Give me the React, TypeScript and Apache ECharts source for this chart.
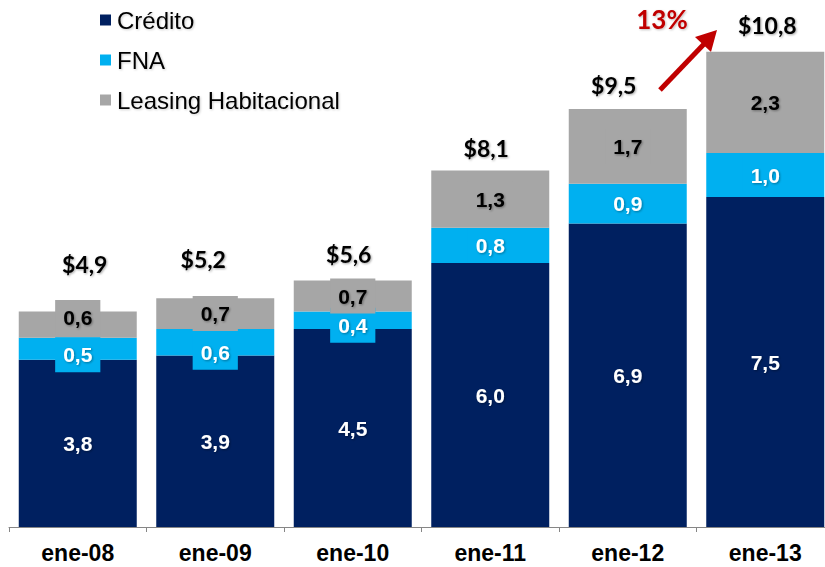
import React, { useEffect, useRef } from "react";
import * as echarts from "echarts";

const categories = ["ene-08", "ene-09", "ene-10", "ene-11", "ene-12", "ene-13"];
const credito = [3.8, 3.9, 4.5, 6.0, 6.9, 7.5];
const fna = [0.5, 0.6, 0.4, 0.8, 0.9, 1.0];
const leasing = [0.6, 0.7, 0.7, 1.3, 1.7, 2.3];
const totals = [4.9, 5.2, 5.6, 8.1, 9.5, 10.8];
const growthLabel = "13%";
const seriesNames = ["Crédito", "FNA", "Leasing Habitacional"];

// label nudges in px (style only)
const totalLabelOffsets = [[7, -36], [-12, -28], [-4, -15], [-4, -11], [-14, -13], [2, -15]];
const fnaLabelShift = [6, 10, 5, 0, 0, 0];
const leasingLabelShift = [-7, 0, 0, 0, 0, 0];

const COLORS = ["#002060", "#00B0F0", "#A6A6A6"];
const fmt = (v: number) => v.toFixed(1).replace(".", ",");

const shadow = {
  textShadowColor: "rgba(0,0,0,0.35)",
  textShadowBlur: 2,
  textShadowOffsetX: 1,
  textShadowOffsetY: 1,
};

export default function App() {
  const ref = useRef<HTMLDivElement>(null);
  useEffect(() => {
    if (!ref.current) return;
    const chart = echarts.init(ref.current, undefined, { renderer: "svg" });
    const valLabel = (color: string, bg: string) => ({
      show: true,
      position: "inside",
      color,
      fontFamily: "Liberation Sans",
      fontWeight: "bold",
      fontSize: 21,
      backgroundColor: bg,
      padding: [7, 8],
      formatter: (p: any) => fmt(p.value),
      ...shadow,
    });
    chart.setOption({
      animation: false,
      legend: {
        data: seriesNames,
        orient: "vertical",
        left: 95,
        top: 3,
        itemWidth: 11,
        itemHeight: 11,
        itemGap: 16,
        icon: "rect",
        textStyle: {
          fontFamily: "Liberation Sans",
          fontSize: 24,
          color: "#000",
          padding: [0, 0, 0, 1],
          ...shadow,
          textShadowColor: "rgba(0,0,0,0.2)",
        },
      },
      grid: { left: 9, top: 43, width: 825, height: 484 },
      xAxis: {
        type: "category",
        data: categories,
        axisLine: { lineStyle: { color: "#868686", width: 1 } },
        axisTick: { show: true, length: 5, lineStyle: { color: "#868686" } },
        axisLabel: {
          color: "#000",
          fontFamily: "Liberation Sans",
          fontWeight: "bold",
          fontSize: 23,
          margin: 14,
        },
      },
      yAxis: { type: "value", min: 0, max: 11, show: false, splitLine: { show: false } },
      series: [
        {
          name: seriesNames[0],
          type: "bar",
          stack: "t",
          barWidth: 118,
          data: credito,
          itemStyle: { color: COLORS[0] },
          label: valLabel("#fff", "transparent"),
        },
        {
          name: seriesNames[1],
          type: "bar",
          stack: "t",
          barWidth: 118,
          data: fna.map((v, i) => ({ value: v, label: { offset: [0, fnaLabelShift[i]] } })),
          itemStyle: { color: COLORS[1] },
          label: valLabel("#fff", COLORS[1]),
        },
        {
          name: seriesNames[2],
          type: "bar",
          stack: "t",
          barWidth: 118,
          data: leasing.map((v, i) => ({ value: v, label: { offset: [0, leasingLabelShift[i]] } })),
          itemStyle: { color: COLORS[2] },
          label: valLabel("#000", COLORS[2]),
        },
        {
          name: "Total",
          type: "bar",
          barWidth: 118,
          barGap: "-100%",
          silent: true,
          z: 1,
          data: totals.map((v, i) => ({ value: v, label: { offset: totalLabelOffsets[i] } })),
          itemStyle: { color: "rgba(0,0,0,0)" },
          label: {
            show: true,
            position: "top",
            distance: 0,
            color: "#000",
            fontFamily: "Lato",
            fontWeight: "bold",
            fontSize: 23,
            formatter: (p: any) => "$" + fmt(p.value),
            ...shadow,
          },
        },
      ],
      graphic: [
        {
          type: "line",
          shape: { x1: 660, y1: 90, x2: 705, y2: 43 },
          style: { stroke: "#C00000", lineWidth: 5 },
        },
        {
          type: "polygon",
          shape: { points: [[717, 30], [711, 52], [695, 37]] },
          style: { fill: "#C00000" },
        },
        {
          type: "text",
          x: 662,
          y: 19,
          style: {
            text: growthLabel,
            fill: "#C00000",
            font: "bold 26px Lato",
            align: "center",
            verticalAlign: "middle",
            ...shadow,
            textShadowColor: "rgba(0,0,0,0.25)",
          },
        },
      ],
    });
    return () => chart.dispose();
  }, []);
  return (
    <div
      ref={ref}
      style={{ position: "fixed", left: 0, top: 0, width: 845, height: 567, background: "#fff" }}
    />
  );
}
